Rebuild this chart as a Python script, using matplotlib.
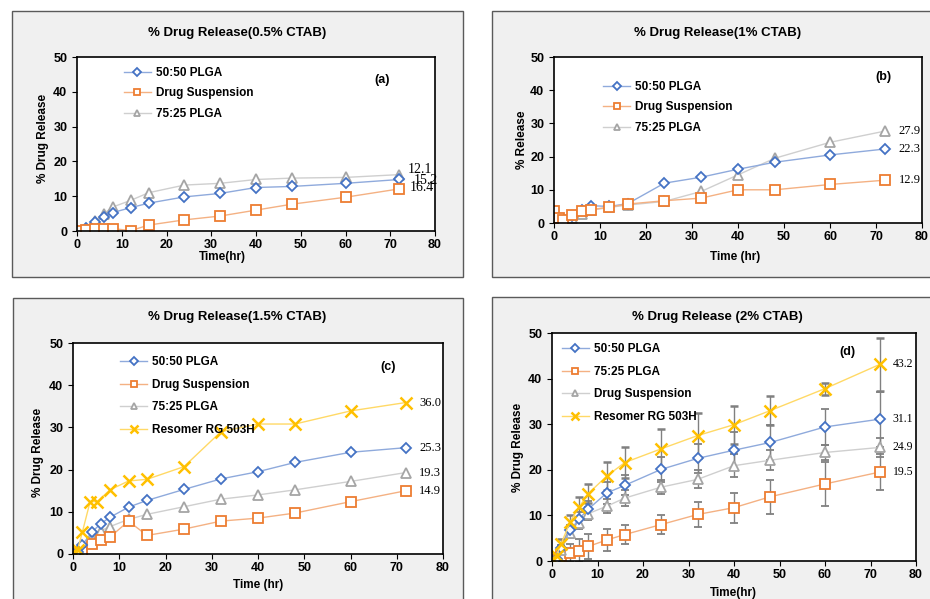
import matplotlib
matplotlib.use('Agg')
import matplotlib.pyplot as plt
from matplotlib.patches import Rectangle
from matplotlib.lines import Line2D

plt.rcParams['font.family'] = ['Liberation Sans', 'DejaVu Sans']

# ---------------- data ----------------
# Panel (a) 0.5% CTAB
t_a = [0, 2, 4, 6, 8, 12, 16, 24, 32, 40, 48, 60, 72]
plga5050_a = [0, 1.0, 2.5, 4.0, 5.3, 6.7, 8.0, 9.8, 10.8, 12.5, 12.8, 13.7, 14.8]
susp_a = [0, 0.3, 0.6, 0.6, 0.7, 0.1, 1.7, 3.2, 4.3, 6.0, 7.7, 9.7, 12.1]
plga7525_a = [0, 0.2, 2.9, 5.0, 6.9, 8.8, 11.0, 13.2, 13.7, 14.8, 15.2, 15.4, 16.2]
labels_a = ["12.1", "15.2", "16.4"]
label_y_a = [17.6, 14.6, 12.6]
label_x_a = [73.8, 75.2, 74.3]

# Panel (b) 1% CTAB
t_b = [0, 1, 2, 4, 6, 8, 12, 16, 24, 32, 40, 48, 60, 72]
plga5050_b = [0, 0, 0.5, 2.0, 4.0, 5.2, 5.0, 5.8, 12.0, 13.8, 16.2, 18.3, 20.5, 22.3]
susp_b = [3.5, 1.5, 1.0, 2.5, 3.5, 4.0, 4.8, 5.7, 6.7, 7.5, 10.0, 10.0, 11.6, 12.9]
plga7525_b = [0, 0, 0.3, 1.5, 2.8, 3.8, 4.7, 5.4, 6.5, 9.5, 14.5, 19.5, 24.3, 27.7]
labels_b = ["27.9", "22.3", "12.9"]
label_y_b = [27.7, 22.3, 12.9]

# Panel (c) 1.5% CTAB
t_c = [0, 1, 2, 4, 6, 8, 12, 16, 24, 32, 40, 48, 60, 72]
t_c_res = [0, 1, 2, 3.7, 5.2, 8, 12, 16, 24, 32, 40, 48, 60, 72]
plga5050_c = [0, 0.5, 2.1, 5.1, 7.2, 8.7, 11.1, 12.7, 15.3, 17.8, 19.5, 21.7, 24.1, 25.2]
susp_c = [0, 0.3, 0.5, 2.4, 3.3, 4.0, 7.8, 4.4, 5.9, 7.8, 8.5, 9.7, 12.4, 15.0]
plga7525_c = [0, 0.3, 1.5, 3.7, 5.5, 6.5, 8.2, 9.4, 11.2, 13.0, 14.0, 15.2, 17.2, 19.3]
res_c = [0.5, 1.0, 5.1, 12.4, 12.4, 15.2, 17.3, 17.7, 20.7, 29.0, 30.8, 30.8, 33.9, 35.9]
labels_c = ["36.0", "25.3", "19.3", "14.9"]
label_y_c = [35.9, 25.2, 19.3, 15.0]

# Panel (d) 2% CTAB
t_d = [0, 1, 2, 4, 6, 8, 12, 16, 24, 32, 40, 48, 60, 72]
plga5050_d = [0, 0.5, 2.8, 6.7, 9.3, 11.4, 14.9, 16.6, 20.1, 22.5, 24.3, 26.0, 29.4, 31.1]
plga5050_d_err = [0.2, 0.4, 0.8, 1.2, 1.5, 1.8, 2.5, 2.2, 2.8, 3.2, 4.0, 3.8, 3.9, 6.0]
plga7525_d = [0, 0.2, 1.0, 1.8, 2.3, 3.2, 4.6, 5.8, 8.0, 10.2, 11.7, 14.1, 16.9, 19.5]
plga7525_d_err = [0.2, 0.3, 1.0, 2.0, 2.6, 2.8, 2.5, 2.1, 2.0, 2.7, 3.3, 3.7, 4.8, 4.0]
susp_d = [0, 0.4, 2.5, 6.2, 8.3, 10.4, 12.0, 13.8, 16.2, 17.9, 20.9, 22.1, 23.8, 24.9]
susp_d_err = [0.2, 0.3, 0.8, 1.2, 1.3, 1.5, 1.5, 1.8, 1.5, 2.0, 2.5, 2.2, 1.6, 2.0]
res_d = [0.5, 1.2, 3.8, 8.6, 11.9, 14.8, 18.6, 21.6, 24.6, 27.5, 29.9, 33.0, 37.8, 43.1]
res_d_err = [0.3, 0.5, 1.0, 1.5, 2.2, 2.0, 3.1, 3.3, 4.3, 4.9, 4.2, 3.1, 1.3, 5.9]
labels_d = ["43.2", "31.1", "24.9", "19.5"]
label_y_d = [43.1, 31.1, 24.9, 19.5]

x_ticks = [0, 10, 20, 30, 40, 50, 60, 70, 80]
y_ticks = [0, 10, 20, 30, 40, 50]

# ---------------- styles ----------------
BLUE = dict(marker='D', color='#8faadc', mec='#4472c4', mfc='white', ms=5.5, mew=1.3, lw=1.0)
ORANGE = dict(marker='s', color='#f4b183', mec='#ed7d31', mfc='white', ms=7, mew=1.3, lw=1.0)
GRAY = dict(marker='^', color='#cfcfcf', mec='#a5a5a5', mfc='white', ms=7, mew=1.3, lw=1.0)
YELLOW = dict(marker='x', color='#ffd966', mec='#ffc000', mfc='white', ms=8, mew=1.8, lw=1.0)

W, H = 930, 599
fig = plt.figure(figsize=(9.3, 5.99), dpi=100)


def outer(l, t, r, b):
    fig.patches.append(Rectangle((l / W, 1 - b / H), (r - l) / W, (b - t) / H,
                                 transform=fig.transFigure, facecolor='#f0f0f0',
                                 edgecolor='#5a5a5a', linewidth=1.0, zorder=-10))


def make_ax(l, t, r, b):
    ax = fig.add_axes([l / W, 1 - b / H, (r - l) / W, (b - t) / H])
    ax.set_zorder(5)
    ax.set_facecolor('white')
    ax.set_xlim(0, 80)
    ax.set_ylim(0, 50)
    ax.set_xticks(x_ticks)
    ax.set_yticks(y_ticks)
    ax.tick_params(direction='out', length=3.5, width=0.8, labelsize=9)
    ax.tick_params(axis='x', pad=2.5)
    ax.tick_params(axis='y', pad=3.5)
    for lab in ax.get_xticklabels() + ax.get_yticklabels():
        lab.set_fontweight('bold')
    for s in ax.spines.values():
        s.set_linewidth(1.2)
        s.set_color('black')
    return ax


def deco(ax, title_xy, title, ylabel, ylab_pos, xlabel, xlab_pos, letter, letter_pos):
    fig.text(title_xy[0] / W, 1 - title_xy[1] / H, title, ha='center', va='center',
             fontsize=9.5, fontweight='bold')
    ax.text(ylab_pos[0], ylab_pos[1], ylabel, transform=ax.transAxes, rotation=90,
            ha='center', va='center', fontsize=8.5, fontweight='bold')
    ax.text(xlab_pos[0], xlab_pos[1], xlabel, transform=ax.transAxes,
            ha='center', va='center', fontsize=8.5, fontweight='bold')
    ax.text(letter_pos[0], letter_pos[1], letter, transform=ax.transAxes,
            ha='center', va='center', fontsize=9, fontweight='bold')


def legend(ax, styles, names, anchor, spacing):
    handles = [Line2D([], [], **{**st, 'ms': st['ms'] * 0.7}) for st in styles]
    ax.legend(handles, names, loc='upper left', bbox_to_anchor=anchor, frameon=False,
              prop={'weight': 'bold', 'size': 8.5}, handlelength=2.3, handletextpad=0.4,
              labelspacing=spacing, borderpad=0, borderaxespad=0)


def vlabels(ax, xs, ys, texts, size):
    for x, y, s in zip(xs, ys, texts):
        ax.text(x, y, s, ha='left', va='center', fontsize=size,
                family=['Liberation Serif', 'DejaVu Serif'], clip_on=False)


# ---------------- panel (a) ----------------
outer(12, 11, 463, 277)
ax = make_ax(77, 57, 435, 231)
ax.plot(t_a, plga7525_a, **GRAY)
ax.plot(t_a, plga5050_a, **BLUE)
ax.plot(t_a, susp_a, **ORANGE)
legend(ax, [BLUE, ORANGE, GRAY], ['50:50 PLGA', 'Drug Suspension', '75:25 PLGA'], (0.131, 0.944), 0.72)
vlabels(ax, label_x_a, label_y_a, labels_a, 10)
deco(ax, (237, 33), '% Drug Release(0.5% CTAB)', '% Drug Release', (-0.095, 0.534),
     'Time(hr)', (0.405, -0.149), '(a)', (0.852, 0.868))

# ---------------- panel (b) ----------------
outer(492, 11, 936, 277)
ax = make_ax(554, 57, 922, 223)
ax.plot(t_b, plga7525_b, **GRAY)
ax.plot(t_b, plga5050_b, **BLUE)
ax.plot(t_b, susp_b, **ORANGE)
legend(ax, [BLUE, ORANGE, GRAY], ['50:50 PLGA', 'Drug Suspension', '75:25 PLGA'], (0.133, 0.856), 0.72)
vlabels(ax, [74.9] * 3, label_y_b, labels_b, 9)
deco(ax, (718, 33), '% Drug Release(1% CTAB)', '% Release', (-0.087, 0.5),
     'Time (hr)', (0.492, -0.205), '(b)', (0.894, 0.88))

# ---------------- panel (c) ----------------
outer(13, 298, 463, 606)
ax = make_ax(73, 343, 443, 554)
ax.plot(t_c, plga7525_c, **GRAY)
ax.plot(t_c, susp_c, **ORANGE)
ax.plot(t_c, plga5050_c, **BLUE)
ax.plot(t_c_res, res_c, **YELLOW)
legend(ax, [BLUE, ORANGE, GRAY, YELLOW],
       ['50:50 PLGA', 'Drug Suspension', '75:25 PLGA', 'Resomer RG 503H'], (0.127, 0.938), 0.9)
vlabels(ax, [74.8] * 4, label_y_c, labels_c, 9)
deco(ax, (237, 317), '% Drug Release(1.5% CTAB)', '% Drug Release', (-0.095, 0.479),
     'Time (hr)', (0.5, -0.147), '(c)', (0.851, 0.886))

# ---------------- panel (d) ----------------
outer(492, 297, 936, 606)
ax = make_ax(552, 333, 916, 561)
ekw = dict(ecolor='#808080', elinewidth=1.0, capsize=3.2, capthick=1.0)
ax.errorbar(t_d, plga7525_d, yerr=plga7525_d_err, **ORANGE, **ekw)
ax.errorbar(t_d, susp_d, yerr=susp_d_err, **GRAY, **ekw)
ax.errorbar(t_d, plga5050_d, yerr=plga5050_d_err, **BLUE, **ekw)
ax.errorbar(t_d, res_d, yerr=res_d_err, **YELLOW, **ekw)
legend(ax, [BLUE, ORANGE, GRAY, YELLOW],
       ['50:50 PLGA', '75:25 PLGA', 'Drug Suspension', 'Resomer RG 503H'], (0.027, 0.956), 0.9)
vlabels(ax, [74.9] * 4, label_y_d, labels_d, 8.5)
deco(ax, (717, 317), '% Drug Release (2% CTAB)', '% Drug Release', (-0.093, 0.5),
     'Time(hr)', (0.497, -0.14), '(d)', (0.813, 0.917))

fig.savefig('out.png', dpi=100)
